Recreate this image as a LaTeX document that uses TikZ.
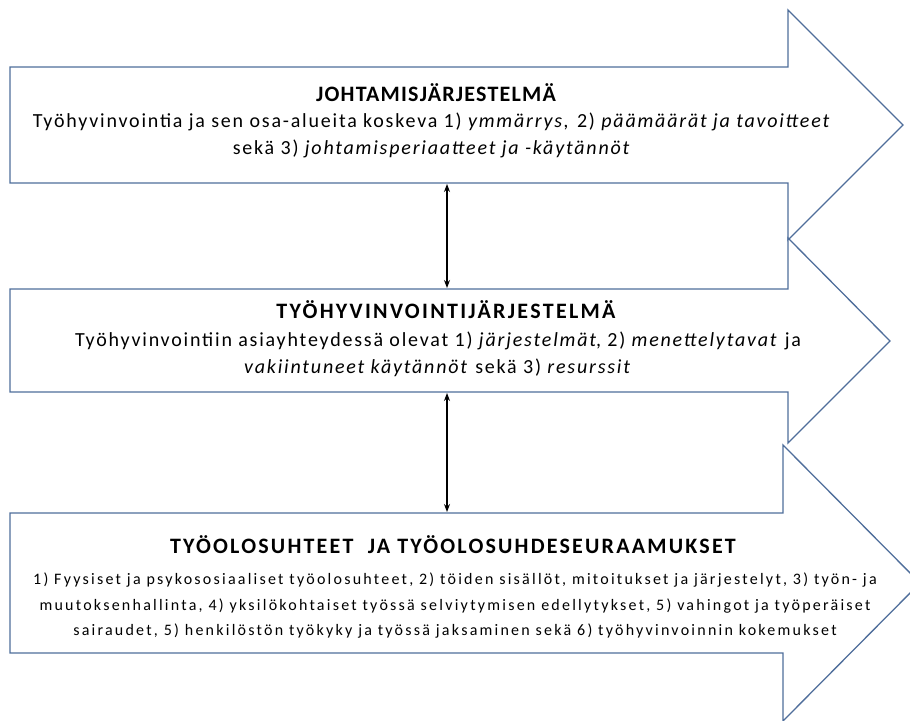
\documentclass[tikz,border=0pt]{standalone}
\usepackage{fontspec}
\setmainfont{Carlito}
\usetikzlibrary{calc,arrows.meta}
\definecolor{arrowblue}{RGB}{79,110,155}
\newcommand{\titlesize}[1]{\bfseries\fontsize{22}{26}\selectfont\addfontfeature{LetterSpace=#1}}
\newcommand{\bodysize}{\fontsize{20}{27}\selectfont\addfontfeature{LetterSpace=9}}
\newcommand{\smallbody}{\fontsize{16}{25.5}\selectfont\addfontfeature{LetterSpace=14}}
\tikzset{
    bigarrow/.style={draw=arrowblue, line width=1.3pt, fill=white, line join=miter},
    heading/.style={font=\titlesize{#1}, inner sep=0pt},
    heading/.default=5.5,
    body/.style={font=\bodysize, align=center, inner sep=0pt},
    link/.style={{Stealth[length=8pt,width=6pt]}-{Stealth[length=8pt,width=6pt]}, line width=1.1pt, black, shorten <=1pt, shorten >=1pt}
}
\begin{document}
\begin{tikzpicture}[x=1pt, y=-1pt]
    \useasboundingbox (0,0) rectangle (910,720);
    % the three block arrows
    \draw[bigarrow] (10,67) -- (788,67) -- (788,10) -- (903,125) -- (788,240)
        -- (788,183) -- (10,183) -- cycle;
    \draw[bigarrow] (10,289) -- (788,289) -- (788,238) -- (890,341) -- (788,443)
        -- (788,392) -- (10,392) -- cycle;
    \draw[bigarrow] (10,513) -- (783,513) -- (783,445) -- (920,583) -- (783,721)
        -- (783,653) -- (10,653) -- cycle;

    \coordinate (johtoS) at (447,183);
    \coordinate (hyvN) at (447,289);
    \coordinate (hyvS) at (447,392);
    \coordinate (oloN) at (447,513);

    % texts
    \node[heading] (johtoT) at (436,93) {JOHTAMISJÄRJESTELMÄ};
    \node[body] (johtoB) at (432,135) {Työhyvinvointia ja sen osa-alueita koskeva 1) \textit{ymmärrys,} 2) \textit{päämäärät ja tavoitteet}\\
        sekä 3) \textit{johtamisperiaatteet ja -käytännöt}};

    \node[heading=10.5] (hyvT) at (446,310) {TYÖHYVINVOINTIJÄRJESTELMÄ};
    \node[body] (hyvB) at (438,354) {Työhyvinvointiin asiayhteydessä olevat 1) \textit{järjestelmät}, 2) \textit{menettelytavat} ja\\
        \textit{vakiintuneet käytännöt} sekä 3) \textit{resurssit}};

    \node[heading=10] (oloT) at (453,545) {TYÖOLOSUHTEET\ \ JA TYÖOLOSUHDESEURAAMUKSET};
    \node[body, font=\smallbody] (oloB) at (455,606) {1) Fyysiset ja psykososiaaliset työolosuhteet, 2) töiden sisällöt, mitoitukset ja järjestelyt, 3) työn- ja\\
        muutoksenhallinta, 4) yksilökohtaiset työssä selviytymisen edellytykset, 5) vahingot ja työperäiset\\
        sairaudet, 5) henkilöstön työkyky ja työssä jaksaminen sekä 6) työhyvinvoinnin kokemukset};

    % links between levels
    \draw[link] (johtoS) -- (hyvN);
    \draw[link] (hyvS) -- (oloN);
\end{tikzpicture}
\end{document}
